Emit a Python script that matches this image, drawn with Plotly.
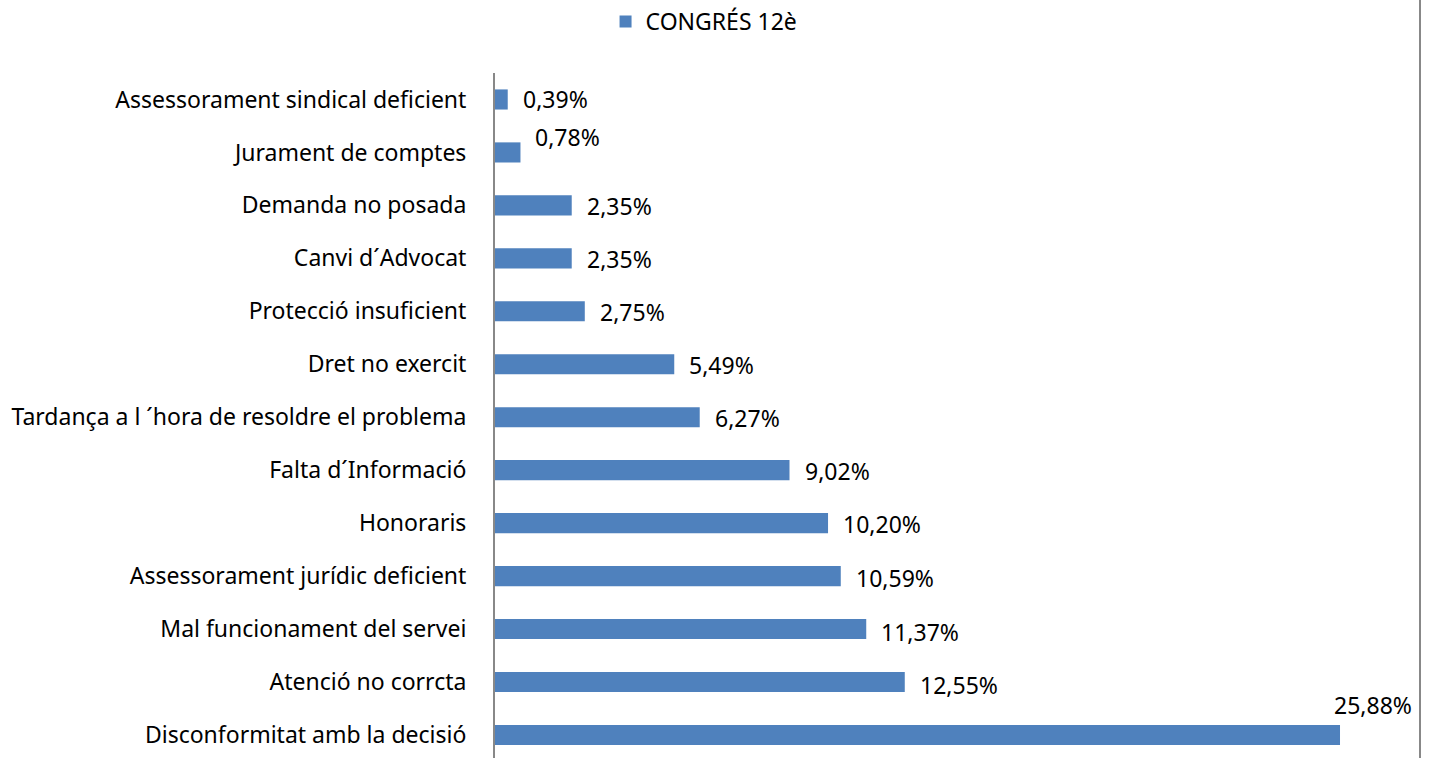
import plotly.graph_objects as go

categories = [
    "Disconformitat amb la decisió",
    "Atenció no corrcta",
    "Mal funcionament del servei",
    "Assessorament jurídic deficient",
    "Honoraris",
    "Falta d´Informació",
    "Tardança a l ´hora de resoldre el problema",
    "Dret no exercit",
    "Protecció insuficient",
    "Canvi d´Advocat",
    "Demanda no posada",
    "Jurament de comptes",
    "Assessorament sindical deficient",
]
values = [25.88, 12.55, 11.37, 10.59, 10.20, 9.02, 6.27, 5.49, 2.75, 2.35, 2.35, 0.78, 0.39]
series_name = "CONGRÉS 12è"

# label offsets (pixels) for the data labels
label_xshift = [-8, 13, 13, 13, 13, 13, 13, 13, 13, 13, 13, 13, 13]
label_yshift = [30, -3, -3, -2, -1, -1, -1, -1, -1, -1, -1, 15, 0]

FONT = "Noto Sans"
FS = 23
COLOR = "#4F81BD"

fig = go.Figure()
fig.add_trace(go.Bar(
    y=categories, x=values, orientation="h", name=series_name,
    marker=dict(color=COLOR, line=dict(width=0)), width=0.38,
    showlegend=True,
))

for c, v, xs, ys in zip(categories, values, label_xshift, label_yshift):
    fig.add_annotation(
        x=v, y=c, xref="x", yref="y",
        text=f"{v:.2f}%".replace(".", ","),
        showarrow=False, xanchor="left", yanchor="middle",
        xshift=xs, yshift=ys,
        font=dict(family=FONT, size=FS, color="black"),
    )

# right frame line
fig.add_shape(type="line", xref="paper", yref="paper", x0=1, x1=1, y0=0, y1=1.2,
              line=dict(color="#888888", width=2))

fig.update_layout(
    width=1431, height=758,
    margin=dict(l=495, r=11, t=73, b=0),
    paper_bgcolor="white", plot_bgcolor="white",
    font=dict(family=FONT, size=FS, color="black"),
    bargap=0.62,
    legend=dict(orientation="h", xref="container", yref="container",
                x=0.492, y=1.0, xanchor="center", yanchor="top",
                font=dict(family=FONT, size=FS, color="black"),
                itemwidth=30),
    xaxis=dict(range=[0, 28.33], showgrid=False, zeroline=False,
               showticklabels=False, showline=False, ticks=""),
    yaxis=dict(type="category", categoryorder="array", categoryarray=categories,
               range=[-0.435, 12.5], showgrid=False, zeroline=False,
               showline=True, linecolor="#888888", linewidth=2,
               ticks="", ticklabelstandoff=22,
               tickfont=dict(family=FONT, size=FS, color="black")),
)

fig.write_html("out.html")
